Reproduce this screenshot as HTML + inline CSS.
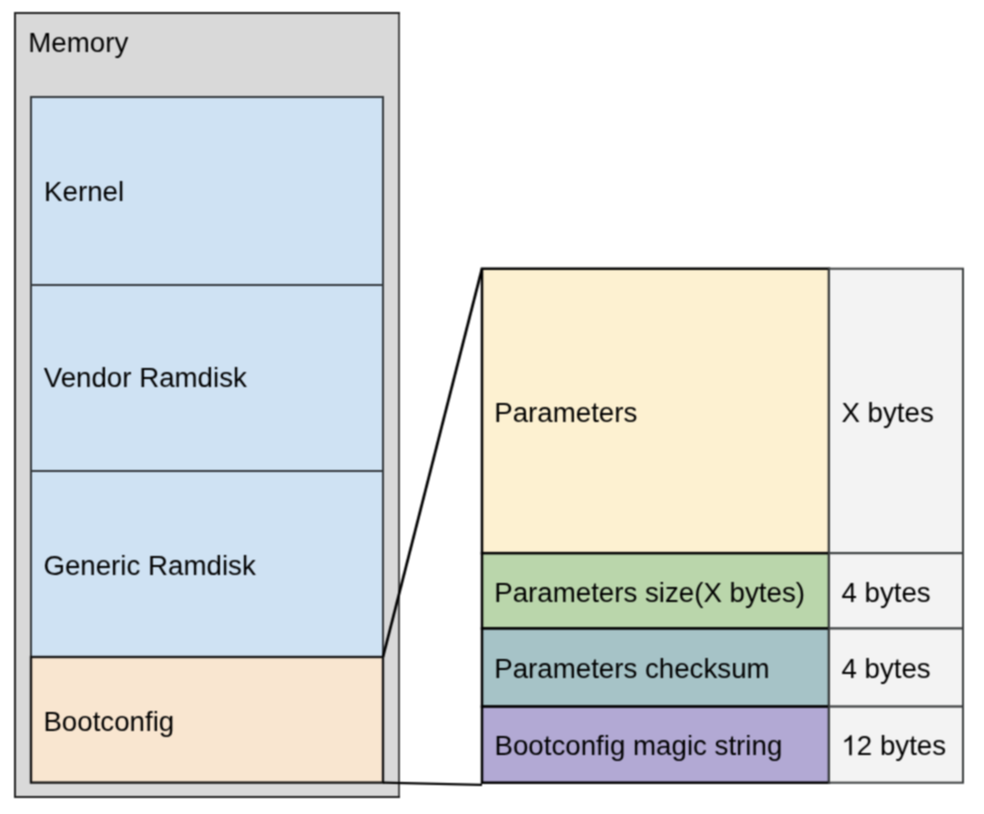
<!DOCTYPE html>
<html><head><meta charset="utf-8">
<style>
html,body{margin:0;padding:0;background:#fff;width:984px;height:814px;overflow:hidden;}
svg{position:absolute;left:0;top:0;}
text{font-family:"Liberation Sans",sans-serif;font-size:27.7px;fill:#000;}
</style></head><body>
<svg width="984" height="814" viewBox="0 0 984 814">
<defs><filter id="soft" x="0" y="0" width="984" height="814" filterUnits="userSpaceOnUse" color-interpolation-filters="sRGB"><feConvolveMatrix order="3" kernelMatrix="1 2 1 2 4 2 1 2 1" divisor="16" edgeMode="duplicate"/></filter></defs>
<g filter="url(#soft)">
<rect x="0" y="0" width="984" height="814" fill="#fff"/>
  <!-- memory outer -->
  <rect x="15" y="13" width="384" height="784" fill="#d9d9d9" stroke="#222" stroke-width="2"/>
  <line x1="399" y1="14" x2="399" y2="796" stroke="#4a4a4a" stroke-width="2"/>
  <text x="28.3" y="52">Memory</text>
  <!-- blue boxes -->
  <rect x="31" y="97" width="352" height="188" fill="#cfe2f3" stroke="#34393d" stroke-width="2"/>
  <rect x="31" y="285" width="352" height="186" fill="#cfe2f3" stroke="#34393d" stroke-width="2"/>
  <rect x="31" y="471" width="352" height="186" fill="#cfe2f3" stroke="#34393d" stroke-width="2"/>
  <rect x="31" y="657" width="352" height="125.6" fill="#f9e6d0" stroke="#111" stroke-width="2.3"/>
  <text x="44.1" y="201.3">Kernel</text>
  <text x="43.7" y="387.2">Vendor Ramdisk</text>
  <text x="43.4" y="575">Generic Ramdisk</text>
  <text x="43.4" y="731">Bootconfig</text>
  <!-- right table -->
    <rect x="482" y="268.7" width="347" height="284.5" fill="#fdf1d1" stroke="#000" stroke-width="2.5"/>
  <rect x="482" y="553.2" width="347" height="75.3" fill="#bad6ab" stroke="#000" stroke-width="2.5"/>
  <rect x="482" y="628.5" width="347" height="78.1" fill="#a6c3c7" stroke="#000" stroke-width="2.5"/>
  <rect x="482" y="706.6" width="347" height="76.1" fill="#b2a9d4" stroke="#000" stroke-width="2.5"/>
  <rect x="829" y="268.7" width="134" height="284.5" fill="#f3f3f3" stroke="#3a3d3e" stroke-width="2"/>
  <rect x="829" y="553.2" width="134" height="75.3" fill="#f3f3f3" stroke="#3a3d3e" stroke-width="2"/>
  <rect x="829" y="628.5" width="134" height="78.1" fill="#f3f3f3" stroke="#3a3d3e" stroke-width="2"/>
  <rect x="829" y="706.6" width="134" height="76.1" fill="#f3f3f3" stroke="#3a3d3e" stroke-width="2"/>
  <text x="494.2" y="421.6">Parameters</text>
  <text x="494.2" y="601.7">Parameters size(X bytes)</text>
  <text x="494.2" y="678.2">Parameters checksum</text>
  <text x="494.5" y="755.2">Bootconfig magic string</text>
  <text x="841.4" y="421.9">X bytes</text>
  <text x="841.4" y="601.9">4 bytes</text>
  <text x="841.4" y="677.9">4 bytes</text>
  <path transform="translate(841.4,755.2) scale(0.013525,-0.013525)" d="M763 0L583 0L583 1147C540 1106 483 1064 413 1023C342 982 279 951 223 930L223 1104C324 1151 412 1209 487 1276C562 1343 615 1409 646 1472L763 1472Z" fill="#000"/>
  <text x="856.8" y="755.2">2 bytes</text>
  <!-- connector lines -->
  <line x1="383" y1="657" x2="482" y2="268.7" stroke="#000" stroke-width="2.7"/>
  <line x1="383" y1="782.6" x2="482" y2="784.8" stroke="#000" stroke-width="2.2"/>
</g>
</svg>
</body></html>
